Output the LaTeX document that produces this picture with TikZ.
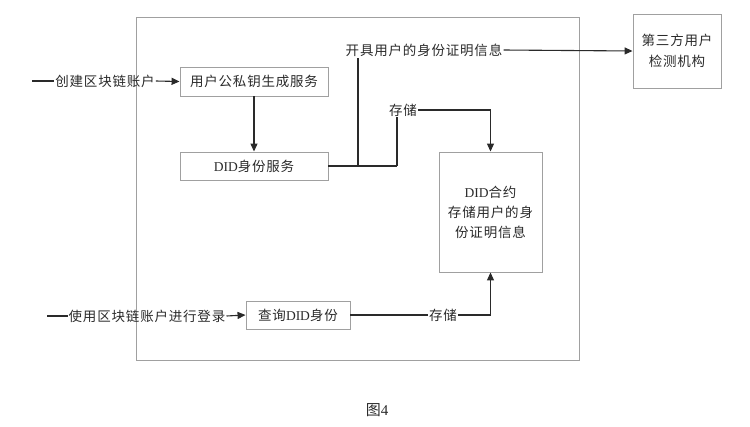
\documentclass[tikz,border=0pt]{standalone}
\usepackage{fontspec}
\setmainfont{Liberation Serif}
\newfontfamily\cjk[LetterSpace=6]{Noto Sans CJK SC}
\usetikzlibrary{arrows.meta}
\definecolor{boxgray}{HTML}{A0A0A0}
\definecolor{ink}{HTML}{2A2A2A}
\tikzset{
  x=1pt,y=-1pt,
  every node/.style={font=\fontsize{13.5pt}{16pt}\selectfont, text=ink},
  proc/.style={draw=boxgray, line width=0.9pt, inner sep=0pt, align=center},
  lbl/.style={inner sep=1pt},
  conn/.style={draw=ink, line width=1.1pt},
  arr/.style={conn, -{Triangle[length=8pt,width=7pt]}}
}
\begin{document}
\begin{tikzpicture}
\useasboundingbox (0,0) rectangle (750,426);
% outer frame
\draw[boxgray, line width=0.9pt] (136,17) rectangle (579,360);
% boxes
\node[proc, minimum width=148pt, minimum height=29pt] (keygen) at (254,81.5) {{\cjk 用户公私钥生成服务}};
\node[proc, minimum width=148pt, minimum height=28pt] (did) at (254,166) {DID{\cjk 身份服务}};
\node[proc, minimum width=104pt, minimum height=28pt] (query) at (298,315) {{\cjk 查询}DID{\cjk 身份}};
\node[proc, minimum width=103pt, minimum height=120pt, font=\fontsize{13.5pt}{20pt}\selectfont] (contract) at (490.5,212) {DID{\cjk 合约}\\{\cjk 存储用户的身}\\{\cjk 份证明信息}};
\node[proc, minimum width=88pt, minimum height=74pt, font=\fontsize{13.5pt}{21pt}\selectfont] (third) at (677,51) {{\cjk 第三方用户}\\{\cjk 检测机构}};
% labels
\node[lbl] (create) at (105,81) {{\cjk 创建区块链账户}};
\node[lbl] (login) at (147,316) {{\cjk 使用区块链账户进行登录}};
\node[lbl] (issue) at (424,50) {{\cjk 开具用户的身份证明信息}};
\node[lbl] (store1) at (403,110) {{\cjk 存储}};
\node[lbl] (store2) at (443,315) {{\cjk 存储}};
\node[font=\fontsize{15pt}{18pt}\selectfont] (caption) at (377,410) {{\cjk 图}4};
% coordinates
\coordinate (in1) at (32,81);
\coordinate (in2) at (47,316);
\coordinate (j1) at (358,166);
\coordinate (j2) at (397,166);
% connectors
\draw[conn] (in1) -- (create.west);
\draw[arr] (create.east) -- (keygen.west);
\draw[conn] (in2) -- (login.west);
\draw[arr] (login.east) -- (query.west);
\draw[arr] (keygen.south) -- (did.north);
\draw[conn] (did.east) -- (j2);
\draw[conn] (j1) -- (j1 |- issue.south);
\draw[conn] (j2) -- (j2 |- store1.south);
\draw[arr] (issue.east) -- (third.west);
\draw[arr] (store1.east) -| (contract.north);
\draw[conn] (query.east) -- (store2.west);
\draw[arr] (store2.east) -| (contract.south);
\end{tikzpicture}
\end{document}
